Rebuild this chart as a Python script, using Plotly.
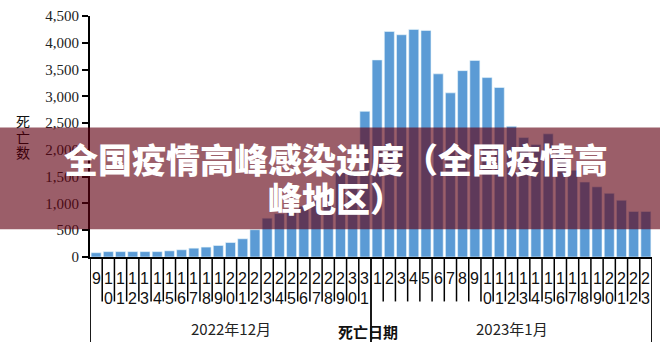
import plotly.graph_objects as go

# ---------------- data ----------------
dec_days = list(range(9, 32))
jan_days = list(range(1, 24))
dec_deaths = [80, 100, 100, 100, 100, 100, 115, 135, 165, 185, 215, 270, 340,
              510, 725, 810, 880, 950, 1050, 1200, 1580, 1620, 2720]
jan_deaths = [3680, 4210, 4150, 4250, 4230, 3420, 3065, 3480, 3670, 3350, 3165,
              2440, 2230, 2100, 2300, 2000, 1620, 1400, 1310, 1190, 1060, 850, 850]
categories = [f"2022-12-{d:02d}" for d in dec_days] + [f"2023-01-{d:02d}" for d in jan_days]
day_labels = [str(d) for d in dec_days + jan_days]
deaths = dec_deaths + jan_deaths
y_tick_vals = [0, 500, 1000, 1500, 2000, 2500, 3000, 3500, 4000, 4500]
y_tick_text = ["0", "500", "1,000", "1,500", "2,000", "2,500", "3,000", "3,500", "4,000", "4,500"]
group_labels = ["2022年12月", "2023年1月"]
y_title_chars = ["死", "亡", "数"]
x_title = "死亡日期"
overlay_lines = ["全国疫情高峰感染进度（全国疫情高", "峰地区）"]

# ---------------- layout helpers ----------------
W, H = 660, 357
L, R, T, B = 90, 8, 13, 100
PW, PH = W - L - R, H - T - B


def px_x(p):
    return (p - L) / PW


def px_y(p):
    return (H - B - p) / PH


n = len(categories)
n_dec = len(dec_days)

fig = go.Figure()
fig.add_trace(go.Bar(
    x=categories, y=deaths,
    marker=dict(color="#5B9BD5", line=dict(color="#eaf6fb", width=0.6)),
    hoverinfo="x+y",
))

shapes = []
annotations = []

# category separators
for i in range(1, n):
    if i == n_dec:
        continue
    shapes.append(dict(type="line", xref="x", yref="paper", x0=i - 0.5, x1=i - 0.5,
                       y0=0, y1=px_y(302), line=dict(color="black", width=1.5), layer="below"))
# group separators
for xb in [-0.5, n_dec - 0.5, n - 0.5]:
    shapes.append(dict(type="line", xref="x", yref="paper", x0=xb, x1=xb,
                       y0=0, y1=px_y(343), line=dict(color="black", width=1.8), layer="below"))

# day labels (stacked digits)
for i, lab in enumerate(day_labels):
    for k, ch in enumerate(lab):
        annotations.append(dict(x=categories[i], xref="x", y=px_y(279 + 20 * k), yref="paper",
                                text=ch, showarrow=False, xanchor="center", yanchor="middle",
                                font=dict(family="Liberation Sans", size=16, color="#111")))

# group labels
group_centers = [(-0.5 + n_dec - 0.5) / 2, (n_dec - 0.5 + n - 0.5) / 2]
for g, c in zip(group_labels, group_centers):
    annotations.append(dict(x=c, xref="x", y=px_y(329), yref="paper", text=g, showarrow=False,
                            xanchor="center", yanchor="middle",
                            font=dict(family="Noto Sans CJK SC", size=15, color="#222")))

# x title
annotations.append(dict(x=px_x(368), xref="paper", y=px_y(332), yref="paper", text=x_title,
                        showarrow=False, xanchor="center", yanchor="middle",
                        font=dict(family="Noto Sans CJK SC", size=15, color="#111", weight="bold")))

# y title (vertical stacked)
y_char_pos = [119, 135, 151]
y_char_col = ["#111", "#3c000b", "#3c000b"]
for ch, yp, col in zip(y_title_chars, y_char_pos, y_char_col):
    annotations.append(dict(x=px_x(23), xref="paper", y=px_y(yp), yref="paper", text=ch,
                            showarrow=False, xanchor="center", yanchor="middle",
                            font=dict(family="Noto Sans CJK SC", size=14, color=col)))

# overlay band
shapes.append(dict(type="rect", xref="paper", yref="paper", x0=px_x(0), x1=px_x(W),
                   y0=px_y(229), y1=px_y(126), fillcolor="rgba(96,0,18,0.63)",
                   line=dict(width=0), layer="above"))

# overlay title text
for line, yp in zip(overlay_lines, [157.5, 197]):
    annotations.append(dict(x=px_x(336), xref="paper", y=px_y(yp), yref="paper", text=line,
                            showarrow=False, xanchor="center", yanchor="middle",
                            font=dict(family="Noto Sans CJK SC", size=34, color="white",
                                      weight=900)))

fig.update_layout(
    width=W, height=H, autosize=False,
    margin=dict(l=L, r=R, t=T, b=B, pad=0),
    paper_bgcolor="white", plot_bgcolor="white",
    showlegend=False, bargap=0.18,
    shapes=shapes, annotations=annotations,
    xaxis=dict(type="category", range=[-0.5, n - 0.5], showticklabels=False, ticks="",
               showgrid=False, zeroline=False, showline=True, linecolor="black", linewidth=2,
               fixedrange=True),
    yaxis=dict(range=[0, 4500], tickvals=y_tick_vals, ticktext=y_tick_text,
               ticks="outside", ticklen=6, tickwidth=2, tickcolor="black",
               showline=True, linecolor="black", linewidth=2, showgrid=False, zeroline=False,
               tickfont=dict(family="Liberation Serif", size=15, color="#222"),
               fixedrange=True),
)

fig.write_html("out.html")
